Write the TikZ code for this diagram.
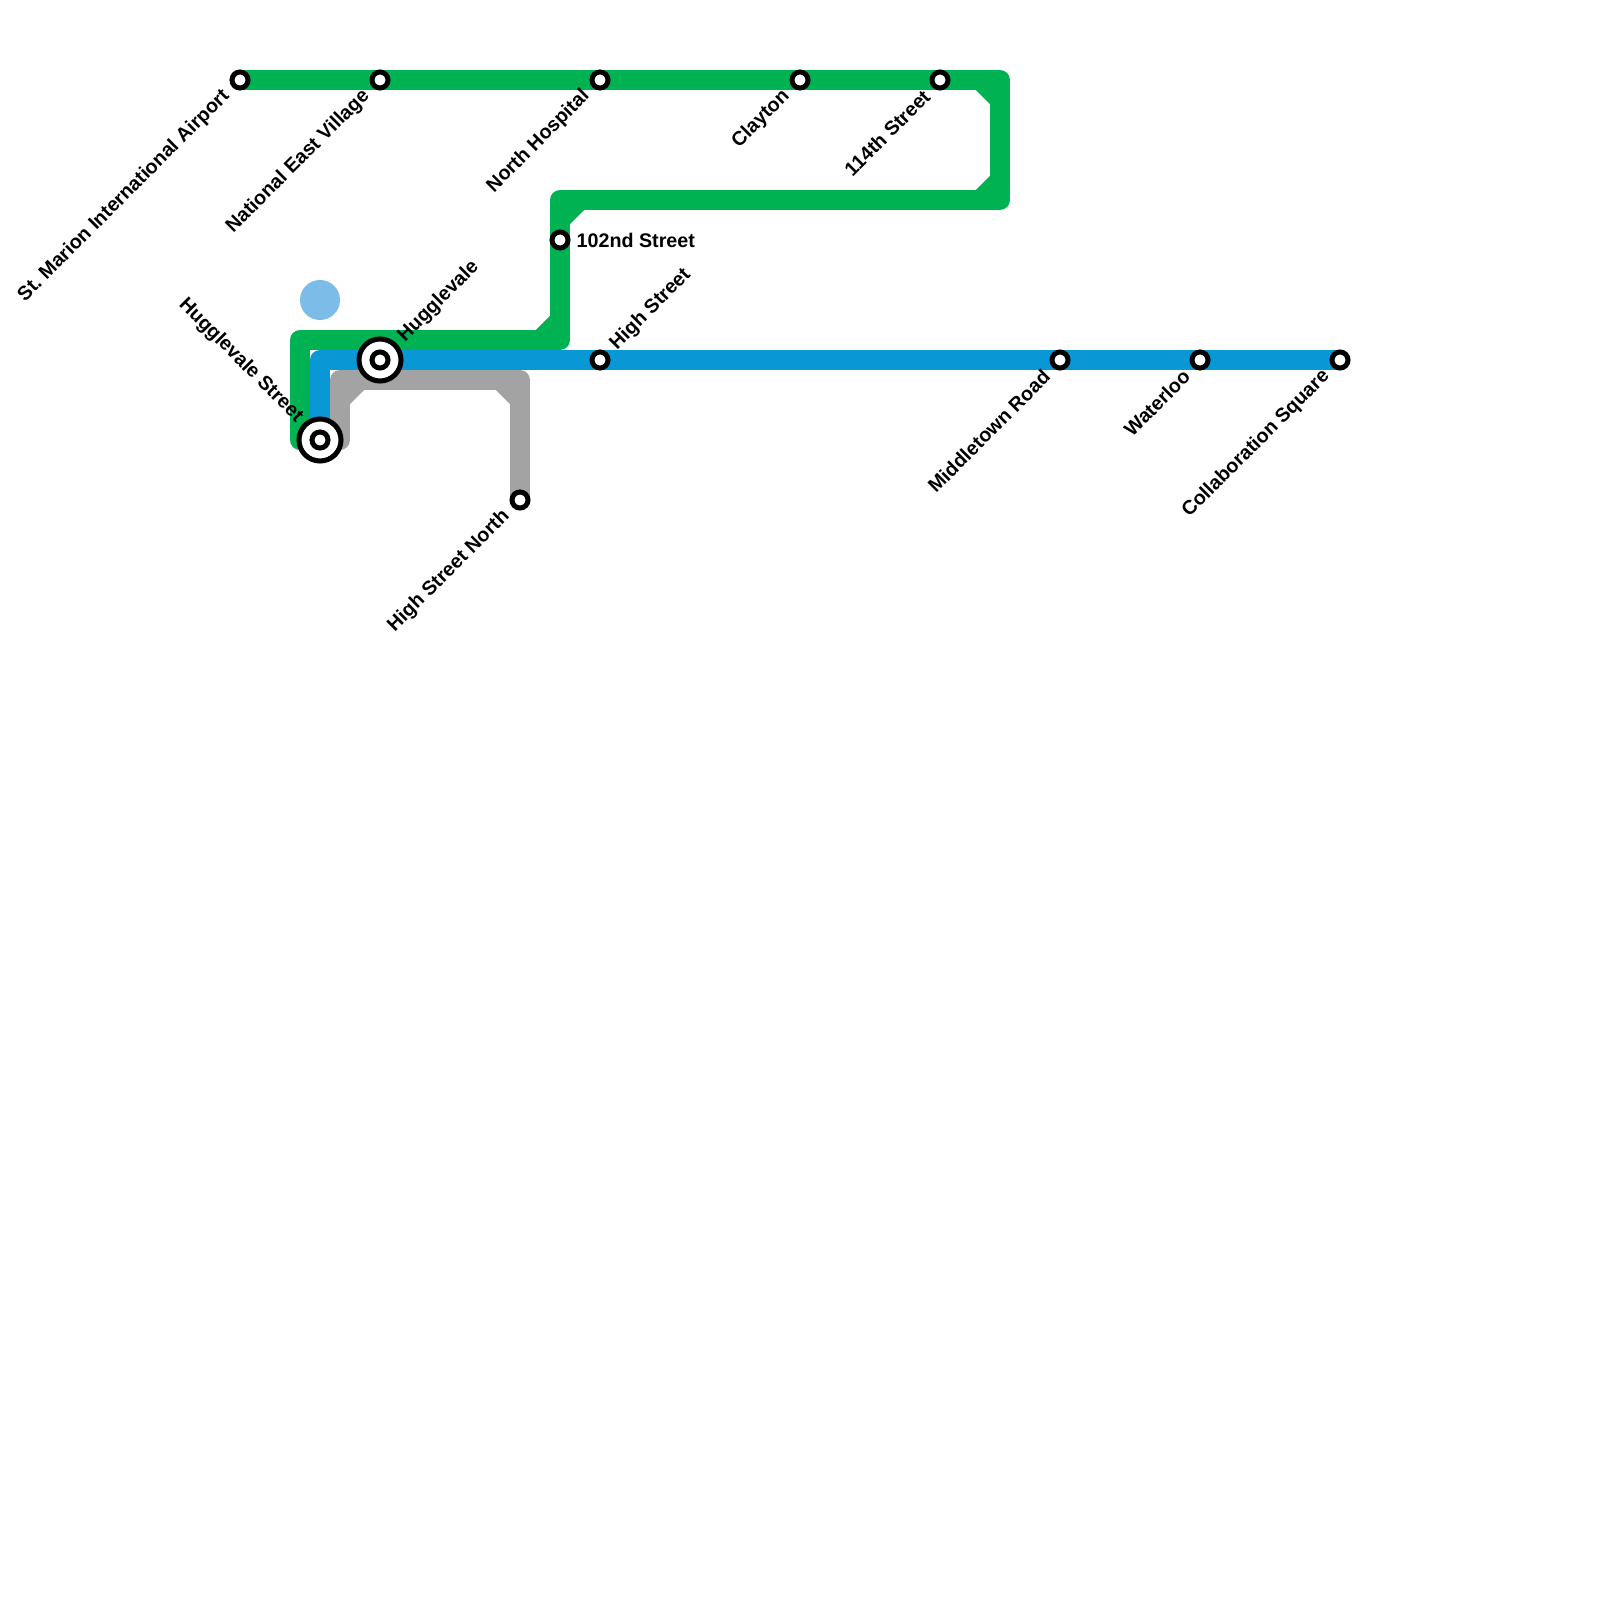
\documentclass[tikz,border=0pt]{standalone}
\usepackage{fontspec}
\setmainfont{Liberation Sans}
\usetikzlibrary{positioning, backgrounds}
\definecolor{greenline}{HTML}{00B251}
\definecolor{blueline}{HTML}{0A97D6}
\definecolor{greyline}{HTML}{A3A3A3}
\definecolor{pond}{HTML}{7BBDE8}
\tikzset{
route/.style={line width=2mm, line cap=round, line join=round}, % the thick line of one route
cut/.style={line width=2mm, line cap=butt}, % fills the inside of a bend
stn/.style={circle, draw=black, fill=white, line width=0.5mm, minimum size=1.6mm, inner sep=0pt}, % plain station
hub/.style={circle, draw=black, fill=white, line width=0.5mm, minimum size=4.2mm, inner sep=0pt}, % outer ring of an interchange
stname/.style={font=\bfseries\fontsize{5.6}{6.5}\selectfont, inner sep=0pt}, % station names
}

\begin{document}
\begin{tikzpicture}[x=0.01cm, y=-0.01cm]
  \useasboundingbox (0,0) rectangle (1600,1600);

  % Stations
  \node[stn] (sm) at (240,80) {};
  \node[stn] (nev) at (380,80) {};
  \node[stn] (nh) at (600,80) {};
  \node[stn] (cl) at (800,80) {};
  \node[stn] (s114) at (940,80) {};
  \node[stn] (s102) at (560,240) {};
  \node[hub] (hv) at (380,360) {};
  \node[stn] (hvin) at (hv) {};
  \node[hub] (hvs) at (320,440) {};
  \node[stn] (hvsin) at (hvs) {};
  \node[stn] (hs) at (600,360) {};
  \node[stn] (hsn) at (520,500) {};
  \node[stn] (mr) at (1060,360) {};
  \node[stn] (wl) at (1200,360) {};
  \node[stn] (cs) at (1340,360) {};

  % Bends and line ends
  \coordinate (gne) at (1000,80);
  \coordinate (gse) at (1000,200);
  \coordinate (gnw) at (560,200);
  \coordinate (gsw) at (560,340);
  \coordinate (gbend) at (300,340);
  \coordinate (gend) at (300,440);
  \coordinate (bbend) at (320,360);
  \coordinate (kend) at (340,440);
  \coordinate (kbend) at (340,380);
  \coordinate (kne) at (520,380);

  % Pond
  \node[circle, fill=pond, minimum size=4mm, inner sep=0pt] (pd) at (320,300) {};

  % Routes
  \begin{scope}[on background layer]
    \draw[route, greenline] (sm.center) -- (nev.center) -- (nh.center) -- (cl.center) -- (s114.center)
      -- (gne) -- (gse) -- (gnw) -- (s102.center) -- (gsw) -- (gbend) -- (gend);
    \draw[route, blueline] (hvs.center) -- (bbend) -- (hv.center) -- (hs.center) -- (mr.center)
      -- (wl.center) -- (cs.center);
    \draw[route, greyline] (kend) -- (kbend) -- (kne) -- (hsn.center);
    % 45 degree cuts inside the bends
    \draw[cut, greenline] ([shift={(-20,0)}]gne) -- ([shift={(0,20)}]gne);
    \draw[cut, greenline] ([shift={(0,-20)}]gse) -- ([shift={(-20,0)}]gse);
    \draw[cut, greenline] ([shift={(20,0)}]gnw) -- ([shift={(0,20)}]gnw);
    \draw[cut, greenline] ([shift={(0,-20)}]gsw) -- ([shift={(-20,0)}]gsw);
    \draw[cut, greyline] ([shift={(0,20)}]kbend) -- ([shift={(20,0)}]kbend);
    \draw[cut, greyline] ([shift={(-20,0)}]kne) -- ([shift={(0,20)}]kne);
  \end{scope}

  % Names
  \node[stname, rotate=45, anchor=east] (smname) at ([shift={(-13,13)}]sm.center) {St.\ Marion International Airport};
  \node[stname, rotate=45, anchor=east] (nevname) at ([shift={(-13,13)}]nev.center) {National East Village};
  \node[stname, rotate=45, anchor=east] (nhname) at ([shift={(-13,13)}]nh.center) {North Hospital};
  \node[stname, rotate=45, anchor=east] (clname) at ([shift={(-13,13)}]cl.center) {Clayton};
  \node[stname, rotate=45, anchor=east] (s114name) at ([shift={(-13,13)}]s114.center) {114th Street};
  \node[stname, anchor=west] (s102name) at ([shift={(16,0)}]s102.center) {102nd Street};
  \node[stname, rotate=45, anchor=west] (hvname) at ([shift={(21,-21)}]hv.center) {Hugglevale};
  \node[stname, rotate=-45, anchor=east] (hvsname) at ([shift={(-20,-20)}]hvs.center) {Hugglevale Street};
  \node[stname, rotate=45, anchor=west] (hsname) at ([shift={(13,-13)}]hs.center) {High Street};
  \node[stname, rotate=45, anchor=east] (hsnname) at ([shift={(-13,13)}]hsn.center) {High Street North};
  \node[stname, rotate=45, anchor=east] (mrname) at ([shift={(-13,13)}]mr.center) {Middletown Road};
  \node[stname, rotate=45, anchor=east] (wlname) at ([shift={(-13,13)}]wl.center) {Waterloo};
  \node[stname, rotate=45, anchor=east] (csname) at ([shift={(-13,13)}]cs.center) {Collaboration Square};
\end{tikzpicture}
\end{document}
